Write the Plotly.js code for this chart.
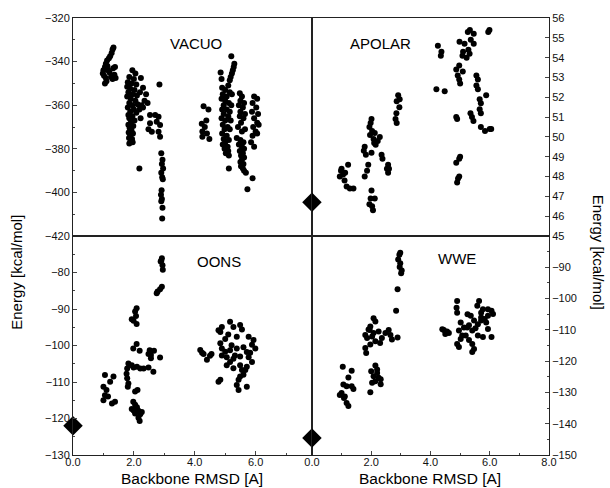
<!DOCTYPE html>
<html>
<head>
<meta charset="utf-8">
<script src="https://cdn.plot.ly/plotly-3.0.1.min.js"></script>
<style>html,body{margin:0;padding:0;background:#fff;}#plot{width:610px;height:488px;}</style>
</head>
<body>
<div id="plot"></div>
<script>
// VACUO panel (top-left)
const vacuoX = [1.33,1.30,1.27,1.22,1.18,1.12,1.08,1.05,1.00,0.98,1.02,1.08,1.10,1.05,1.15,1.20,1.32,1.36,1.40,1.30,1.25,1.13,1.38,
1.95,2.05,1.85,2.00,1.80,1.92,2.08,1.78,1.88,2.02,1.82,1.95,2.10,1.78,1.90,2.05,1.85,2.12,1.95,1.80,2.00,1.88,2.08,1.82,1.95,1.85,2.02,1.90,1.82,1.98,1.86,1.92,1.83,1.97,1.88,1.84,1.94,1.90,1.85,1.96,
2.23,2.30,2.20,2.40,2.35,2.25,2.45,2.18,2.30,2.22,2.18,2.48,
2.84,2.53,2.70,2.81,2.53,2.75,2.86,2.59,2.81,2.86,
2.90,2.94,2.92,2.96,2.90,2.93,2.95,2.91,2.89,2.92,2.90,2.94,2.93,
4.29,4.45,4.23,4.38,4.33,4.25,4.40,4.25,4.48,
5.20,5.30,5.28,5.25,5.22,5.18,5.15,4.85,4.88,4.90,5.00,5.10,4.92,5.05,5.15,5.22,4.88,5.00,5.12,4.95,5.20,4.90,5.05,5.15,4.95,5.10,4.88,5.00,5.18,4.92,5.08,4.98,5.15,4.90,5.05,4.95,5.12,5.00,4.92,5.08,4.98,5.10,5.02,5.12,5.12,
5.48,5.55,5.50,5.62,5.45,5.58,5.50,5.65,5.48,5.60,5.52,5.42,5.55,5.65,5.38,5.50,5.60,5.45,5.55,5.62,5.48,5.58,5.52,5.62,5.55,5.50,5.60,5.52,5.58,5.62,5.68,
5.95,6.05,5.90,6.02,5.88,6.08,5.95,6.05,5.92,6.10,6.00,5.90,6.05,5.85,5.95,5.90,5.73];
const vacuoY = [-333.5,-334.5,-336,-337.5,-338.5,-339.5,-341,-342.5,-344,-345.5,-346.5,-347.5,-349,-350,-344,-345,-343,-346,-347.5,-348,-347,-342,-342.5,
-344,-345.5,-347,-348,-349.5,-350,-350.5,-351.5,-352.5,-353,-354,-355,-355.5,-356,-357,-358,-359,-359.5,-360,-361,-362,-363,-363.5,-364.5,-365,-366,-367,-368,-369,-369.5,-370.5,-371.5,-372.5,-373,-374,-375,-375.5,-376.5,-377.5,-377,
-347.5,-352,-354,-355,-358,-360,-359,-362,-361,-366,-389,-371,
-350.5,-364.5,-364.5,-365.3,-368.3,-367.6,-369.1,-372.2,-372.2,-374.5,
-382,-385,-387,-389,-391,-393,-394,-399,-401,-403,-404,-407,-412,
-360.5,-362,-368.5,-367,-370,-372,-373,-374.5,-375.5,
-337.5,-341,-342.5,-344,-345.5,-347,-348.5,-345,-348,-352,-353,-351,-355,-356,-354,-355,-357,-358,-359,-360,-360,-362,-362,-363,-364,-365,-366,-367,-367,-369,-370,-371,-371,-373,-374,-375.5,-376,-377,-378,-379,-380,-381,-382,-383,-389,
-354.5,-356,-358,-359,-360,-361,-363,-364,-365,-366,-368,-370,-372,-371,-375,-376,-377,-378,-379,-380,-381,-382,-383,-384,-385,-386,-387,-388,-389,-390,-391,
-356,-357,-359,-361,-363,-364,-366,-368,-370,-369,-372,-374,-373,-377,-379,-393.5,-398.5];

// APOLAR panel (top-right)
const apolarX = [1.22,1.00,1.05,0.94,1.10,1.17,1.28,1.40,1.12,0.98,
2.01,1.98,1.94,2.03,2.12,2.29,2.22,2.10,1.96,1.78,1.75,1.82,2.01,2.35,2.38,1.90,1.86,1.78,2.01,1.98,2.12,1.94,2.03,2.06,2.57,2.60,2.57,2.53,2.08,2.15,
2.91,2.96,2.86,2.95,2.85,2.82,2.86,
4.25,4.37,4.35,4.20,4.48,
4.87,4.97,4.92,5.09,4.97,5.00,4.87,4.90,4.87,4.97,5.00,4.93,4.97,4.90,
5.26,5.33,5.46,4.98,5.15,5.10,5.22,5.32,5.46,5.36,5.99,5.95,5.28,5.08,
5.55,5.60,5.55,5.60,5.66,5.70,5.66,5.70,5.35,5.40,5.45,5.88,5.70,5.84,6.00,6.05];
const apolarY = [48.6,48.4,48.1,48.0,47.8,47.5,47.4,47.4,48.2,48.3,
50.9,50.7,50.5,50.3,50.2,50.0,49.8,49.7,50.1,49.5,49.3,49.1,49.2,49.1,48.9,48.6,48.3,48.0,47.3,46.9,46.9,46.6,46.5,46.3,48.6,48.4,48.2,48.4,49.9,49.6,
52.1,51.9,51.8,51.5,51.2,50.9,50.7,
54.6,54.3,54.1,52.4,52.3,
53.4,53.6,53.1,53.3,52.9,52.7,51.0,50.9,48.7,48.9,49.0,47.9,48.0,47.7,
55.3,55.4,55.2,54.8,54.7,54.3,54.0,54.2,54.7,54.9,55.4,55.3,54.4,54.1,
53.1,52.9,52.6,52.4,51.9,51.7,51.4,51.2,51.2,51.0,50.8,52.1,50.5,50.3,50.4,50.4];

// OONS panel (bottom-left)
const oonsX = [2.92,2.88,2.94,2.95,2.90,
2.92,2.86,2.78,2.75,
2.09,2.04,2.07,1.93,1.99,2.09,
1.98,2.09,2.19,2.48,2.52,2.56,2.66,2.56,2.86,2.64,2.48,
1.82,1.93,1.78,1.76,1.78,1.82,1.80,2.10,2.21,2.32,1.99,2.04,2.12,
1.98,2.04,2.10,1.93,2.15,2.21,2.26,2.15,2.19,2.04,1.99,
1.05,1.33,1.22,1.00,1.10,1.05,1.15,1.38,1.28,1.00,
4.18,4.29,4.50,4.40,4.55,4.24,
4.78,4.89,4.84,5.16,5.27,5.49,5.55,5.77,5.93,5.99,5.88,5.71,5.77,5.88,5.71,5.66,5.49,5.44,5.38,5.44,5.71,4.84,4.78,
4.84,4.89,5.00,5.05,4.89,5.16,5.05,5.27,5.21,5.38,5.32,5.16,5.49,5.55,5.60,5.27,5.00,5.10,5.38,5.60,5.82,5.49];
const oonsY = [-76.1,-77,-78,-79.2,-76.8,
-83.9,-84.6,-85.2,-85.7,
-89.8,-90.7,-91.9,-92.8,-93.2,-94.1,
-100.8,-99.6,-101.4,-102.3,-101.3,-102.6,-101.4,-103.5,-103.3,-107.2,-106.0,
-104.9,-105.4,-106.3,-107.7,-109,-110.4,-111.3,-105.8,-106.3,-106.3,-106,-112.6,-112.2,
-115.4,-116.2,-116.9,-117.4,-117.9,-118.8,-118.2,-119.8,-120.7,-118.6,-117.8,
-108.1,-108.5,-109.9,-111.3,-112.2,-113.6,-114,-115.4,-115.9,-115,
-101.2,-102.3,-102.8,-103.9,-102.3,-102.0,
-95.8,-94.9,-96.3,-93.5,-94.9,-94.4,-95.6,-97.6,-98.5,-100.8,-99.8,-101.8,-103.2,-104.5,-105.8,-106.7,-108.5,-109.4,-110.8,-112.2,-111.3,-109.4,-109.9,
-99.4,-100.8,-101.7,-103.2,-102.7,-104.5,-105.4,-103.6,-99.9,-100.8,-102.7,-101.3,-105.4,-106.7,-108.0,-106.2,-98.2,-97.0,-97.6,-100.5,-102.0,-103.0];

// WWE panel (bottom-right)
const wweX = [2.98,2.95,2.91,2.98,2.96,3.03,3.01,2.89,2.84,2.89,
2.08,2.14,1.97,1.91,1.80,1.86,2.03,2.14,1.97,1.80,1.83,2.30,2.36,2.59,2.65,2.70,2.48,2.25,2.08,1.95,
1.04,1.34,1.23,1.06,1.17,1.34,1.40,1.00,0.94,1.11,1.17,1.23,1.08,
2.14,2.20,2.00,2.08,2.25,2.14,2.32,2.03,1.97,2.20,2.32,
4.45,4.56,4.62,4.40,4.50,
4.90,4.88,4.90,5.02,5.13,4.96,5.19,5.02,4.90,4.96,5.30,5.41,5.47,5.41,5.60,5.77,5.94,5.88,5.94,5.71,5.64,5.58,5.77,5.94,6.06,6.11,6.06,5.36,5.25,5.47,5.71,5.24,5.07,5.41,5.60,5.83,5.71,5.52,5.30];
const wweY = [-85.3,-86,-87.5,-88.7,-89.9,-91,-91.9,-97,-103.9,-112.4,
-106.3,-107.3,-108.9,-109.9,-111.6,-112.6,-112.1,-113.6,-114.7,-115.8,-117.4,-114.2,-112.6,-110,-111.6,-113.1,-111,-110.5,-111.0,-110.0,
-121.8,-123.1,-125.2,-127.5,-128,-128,-128.9,-130.2,-130.8,-131.3,-133.4,-134.3,-131.8,
-121.4,-122.7,-123.2,-124.8,-125.3,-126.4,-127.4,-126.9,-129.9,-123.8,-125.8,
-110,-110.5,-111,-109.8,-111.3,
-100.8,-102.9,-104.5,-107.6,-109.2,-110.2,-111.8,-112.9,-114.5,-115.5,-113.2,-114.5,-116.1,-117.1,-111.8,-112.3,-109.7,-107.6,-105.5,-104.5,-100.8,-102.3,-103.4,-103.4,-103.9,-104.9,-112.3,-105.5,-105.0,-107.0,-107.0,-109.2,-111.8,-110.2,-108.2,-106.5,-106.0,-109.5,-108.5];

// Native structures (diamonds): [x, energy]
const apolarNative = [0.0, 46.7];
const oonsNative = [0.0, -122.0];
const wweNative = [0.0, -144.6];

const panelLabels = ["VACUO", "APOLAR", "OONS", "WWE"];
const yTitle = "Energy [kcal/mol]";
const xTitle = "Backbone RMSD [A]";

const FONT = "Liberation Sans, Arial, Helvetica, sans-serif";
const dot = {color: "#000", size: 6};
const dia = {color: "#000", size: 15, symbol: "diamond"};

const traces = [
  {x: vacuoX, y: vacuoY, xaxis: "x", yaxis: "y", mode: "markers", type: "scatter", marker: dot},
  {x: apolarX, y: apolarY, xaxis: "x2", yaxis: "y2", mode: "markers", type: "scatter", marker: dot},
  {x: oonsX, y: oonsY, xaxis: "x3", yaxis: "y3", mode: "markers", type: "scatter", marker: dot},
  {x: wweX, y: wweY, xaxis: "x4", yaxis: "y4", mode: "markers", type: "scatter", marker: dot},
  {x: [apolarNative[0]], y: [apolarNative[1]], xaxis: "x2", yaxis: "y2", mode: "markers", type: "scatter", marker: dia, cliponaxis: false},
  {x: [oonsNative[0]], y: [oonsNative[1]], xaxis: "x3", yaxis: "y3", mode: "markers", type: "scatter", marker: dia, cliponaxis: false},
  {x: [wweNative[0]], y: [wweNative[1]], xaxis: "x4", yaxis: "y4", mode: "markers", type: "scatter", marker: dia, cliponaxis: false}
];

const XS = 0.502, YS = 0.501;
const LX = [0, 7.85], RX = [0, 8.0];
const common = {showline: true, linecolor: "#222", linewidth: 1, mirror: true, zeroline: false, showgrid: false,
  tickfont: {family: FONT, size: 11, color: "#111"}, ticks: "inside", ticklen: 4, tickcolor: "#444"};

function ann(text, x, y, size, angle) {
  return {text: text, xref: "paper", yref: "paper", x: x, y: y, xanchor: "center", yanchor: "middle",
    textangle: angle || 0, showarrow: false, font: {family: FONT, size: size, color: "#000"}};
}

const layout = {
  width: 610, height: 488,
  margin: {l: 73, r: 61, t: 18, b: 33},
  paper_bgcolor: "#fff", plot_bgcolor: "#fff",
  showlegend: false,
  font: {family: FONT, color: "#111"},
  xaxis: Object.assign({}, common, {domain: [0, XS], range: LX, anchor: "y", showticklabels: false, ticks: ""}),
  yaxis: Object.assign({}, common, {domain: [YS, 1], range: [-420, -320], anchor: "x", tickvals: [-420,-400,-380,-360,-340,-320],
    minor: {dtick: 10, ticks: "inside", ticklen: 2, tickcolor: "#444"}}),
  xaxis2: Object.assign({}, common, {domain: [XS, 1], range: RX, anchor: "y2", showticklabels: false, ticks: ""}),
  yaxis2: Object.assign({}, common, {domain: [YS, 1], range: [45, 56], anchor: "x2", side: "right", dtick: 1}),
  xaxis3: Object.assign({}, common, {domain: [0, XS], range: LX, anchor: "y3", tickvals: [0,2,4,6], tickformat: ".1f", ticklabelstandoff: -3,
    minor: {tickvals: [1,3,5,7], ticks: "inside", ticklen: 2, tickcolor: "#444"}}),
  yaxis3: Object.assign({}, common, {domain: [0, YS], range: [-130, -70], anchor: "x3", tickvals: [-130,-120,-110,-100,-90,-80],
    minor: {dtick: 5, ticks: "inside", ticklen: 2, tickcolor: "#444"}}),
  xaxis4: Object.assign({}, common, {domain: [XS, 1], range: RX, anchor: "y4", tickvals: [0,2,4,6,8], tickformat: ".1f", ticklabelstandoff: -3,
    minor: {tickvals: [1,3,5,7], ticks: "inside", ticklen: 2, tickcolor: "#444"}}),
  yaxis4: Object.assign({}, common, {domain: [0, YS], range: [-150, -80], anchor: "x4", side: "right", tickvals: [-150,-140,-130,-120,-110,-100,-90],
    minor: {dtick: 5, ticks: "inside", ticklen: 2, tickcolor: "#444"}}),
  annotations: [
    ann(panelLabels[0], 0.258, 0.942, 15),
    ann(panelLabels[1], 0.645, 0.942, 15),
    ann(panelLabels[2], 0.307, 0.442, 15),
    ann(panelLabels[3], 0.807, 0.449, 15),
    ann(yTitle, -0.118, 0.419, 15, -90),
    ann(yTitle, 1.103, 0.465, 15, 90),
    ann(xTitle, 0.25, -0.054, 15.5),
    ann(xTitle, 0.75, -0.054, 15.5)
  ]
};

Plotly.newPlot("plot", traces, layout, {displayModeBar: false, staticPlot: true});
</script>
</body>
</html>
